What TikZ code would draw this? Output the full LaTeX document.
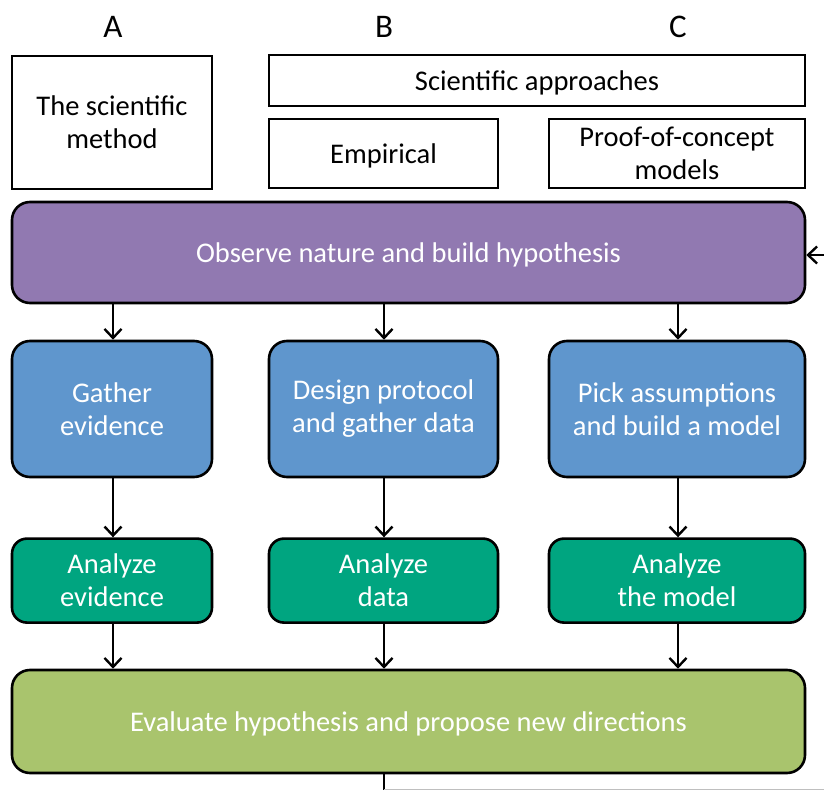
\documentclass[tikz,border=0pt]{standalone}
\usepackage{fontspec}
\setmainfont{Carlito}
\usetikzlibrary{arrows.meta, positioning}

\definecolor{hypcol}{HTML}{9179B1}
\definecolor{workcol}{HTML}{5F96CD}
\definecolor{anacol}{HTML}{00A580}
\definecolor{evalcol}{HTML}{A9C46D}

\begin{document}
\begin{tikzpicture}[x=1pt, y=-1pt, ->, >={Straight Barb[length=9pt, width=17pt]}, line width=2.4pt]
	\tikzset {
		plain/.style={draw, -, line width=2pt, align=center, inner sep=2pt, font=\fontsize{28.5}{33}\selectfont},
		letter/.style={font=\fontsize{33}{36}\selectfont},
		stage/.style={draw, -, line width=2.6pt, rounded corners=18pt, text=white, align=center, font=\fontsize{28.5}{33}\selectfont},
		oneline/.style={text depth=0pt} }
	\useasboundingbox (0,0) rectangle (824,791);

	% headings
	\node[letter] (colA) at (113,27) {A};
	\node[letter] (colB) at (384,27) {B};
	\node[letter] (colC) at (678,27) {C};

	\node[plain, minimum width=200pt, minimum height=133pt] (method) at (112,122.5) {The scientific\\method};
	\node[plain, oneline, minimum width=536pt, minimum height=51pt] (approaches) at (537,80.5) {Scientific approaches};
	\node[plain, oneline, minimum width=229pt, minimum height=69pt] (empirical) at (383.5,153.5) {Empirical};
	\node[plain, minimum width=256pt, minimum height=69pt] (poc) at (677,153.5) {Proof-of-concept\\models};

	% stages
	\node[stage, oneline, fill=hypcol, minimum width=793pt, minimum height=101pt] (hyp) at (408.5,252.5) {Observe nature and build hypothesis};

	\node[stage, fill=workcol, minimum width=200pt, minimum height=136pt] (gather) at (112,409) {Gather\\evidence};
	\node[stage, fill=workcol, minimum width=229pt, minimum height=136pt] (design) at (383.5,409) {Design protocol\\and gather data};
	\node[stage, fill=workcol, minimum width=256pt, minimum height=136pt] (pick) at (677,409) {Pick assumptions\\and build a model};

	\node[stage, fill=anacol, rounded corners=15pt, minimum width=200pt, minimum height=84pt, below=59pt of gather] (anaA) {Analyze\\evidence};
	\node[stage, fill=anacol, rounded corners=15pt, minimum width=229pt, minimum height=84pt, below=59pt of design] (anaB) {Analyze\\data};
	\node[stage, fill=anacol, rounded corners=15pt, minimum width=256pt, minimum height=84pt, below=59pt of pick] (anaC) {Analyze\\the model};

	\node[stage, oneline, fill=evalcol, minimum width=793pt, minimum height=103pt] (eval) at (408.5,721.5) {Evaluate hypothesis and propose new directions};

	% arrows
	\draw (hyp.south -| colA) -- (gather.north -| colA);
	\draw (hyp.south -| colB) -- (design.north -| colB);
	\draw (hyp.south -| colC) -- (pick.north -| colC);
	\draw (gather.south -| colA) -- (anaA.north -| colA);
	\draw (design.south -| colB) -- (anaB.north -| colB);
	\draw (pick.south -| colC) -- (anaC.north -| colC);
	\draw (anaA.south -| colA) -- (eval.north -| colA);
	\draw (anaB.south -| colB) -- (eval.north -| colB);
	\draw (anaC.south -| colC) -- (eval.north -| colC);

	% loop back
	\coordinate (loopL) at (384,789.5);
	\coordinate (loopR) at (824,789.5);
	\coordinate (back) at (826,255);
	\draw[-] (eval.south -| loopL) -- (loopL);
	\draw[-, line width=1pt, gray!50] (loopL) -- (loopR);
	\draw (back) -- (hyp.east |- back);
\end{tikzpicture}
\end{document}
